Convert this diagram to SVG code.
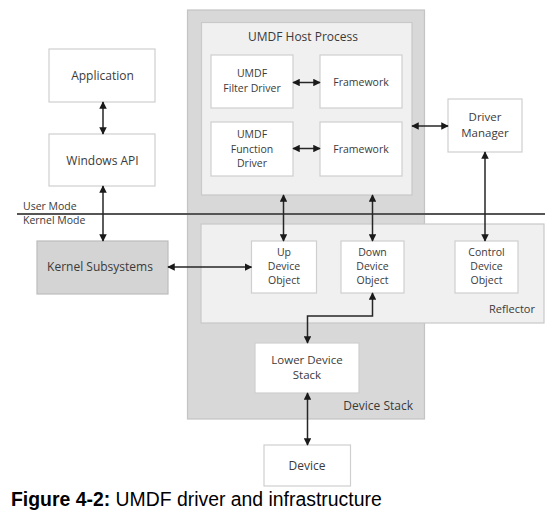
<svg xmlns="http://www.w3.org/2000/svg" width="559" height="519" viewBox="0 0 559 519">
<style>
  .t { font-family: "Open Sans", "Noto Sans", "DejaVu Sans", sans-serif; fill: #3a3a3a; text-anchor: middle; }
  .big { font-size: 12px; }
  .sm { font-size: 10.5px; }
  .box { fill: #ffffff; stroke: #cfcfcf; stroke-width: 1.2; }
  .pane { fill: #f0f0f0; stroke: #c9c9c9; stroke-width: 1.2; }
  .outer { fill: #d8d8d8; stroke: #c4c4c4; stroke-width: 1.2; }
  .kern { fill: #d4d4d4; stroke: #bcbcbc; stroke-width: 1.2; }
  .c { fill: none; stroke: #262626; stroke-width: 1.5; marker-start: url(#ah); marker-end: url(#ah); }
</style>
<defs>
  <marker id="ah" viewBox="0 0 10 10" refX="9" refY="5" markerWidth="7.5" markerHeight="7.5" markerUnits="userSpaceOnUse" orient="auto-start-reverse">
    <path d="M0,0 L10,5 L0,10 z" fill="#1a1a1a"/>
  </marker>
</defs>
<rect width="559" height="519" fill="#ffffff"/>

<g id="device-stack">
  <rect class="outer" x="187.5" y="10" width="237" height="409"/>
  <text class="t" x="413" y="410" font-size="12" style="text-anchor:end">Device Stack</text>
</g>

<g id="umdf-host-process">
  <rect class="pane" x="201.5" y="22.5" width="210.5" height="172.5"/>
  <text class="t big" x="303" y="41">UMDF Host Process</text>
</g>

<g id="umdf-filter-driver">
  <rect class="box" x="211" y="55" width="82" height="53"/>
  <text class="t sm" x="252" y="77">UMDF</text>
  <text class="t sm" x="252" y="92">Filter Driver</text>
</g>
<g id="framework-1">
  <rect class="box" x="320" y="55" width="82" height="53"/>
  <text class="t sm" x="361" y="86">Framework</text>
</g>
<g id="umdf-function-driver">
  <rect class="box" x="211" y="122" width="82" height="54"/>
  <text class="t sm" x="252" y="138">UMDF</text>
  <text class="t sm" x="252" y="152.5">Function</text>
  <text class="t sm" x="252" y="167">Driver</text>
</g>
<g id="framework-2">
  <rect class="box" x="320" y="122" width="82" height="54"/>
  <text class="t sm" x="361" y="152.5">Framework</text>
</g>

<g id="application">
  <rect class="box" x="49" y="49" width="106" height="53"/>
  <text class="t big" x="102.5" y="80">Application</text>
</g>
<g id="windows-api">
  <rect class="box" x="49" y="134" width="106" height="52"/>
  <text class="t big" x="102.5" y="165">Windows API</text>
</g>

<g id="driver-manager">
  <rect class="box" x="448" y="99" width="74" height="53"/>
  <text class="t" x="485" y="121" font-size="11.5">Driver</text>
  <text class="t" x="485" y="136.8" font-size="11.5">Manager</text>
</g>

<g id="reflector">
  <rect class="pane" x="201" y="224" width="343" height="99"/>
  <text class="t" x="535" y="313" font-size="11" style="text-anchor:end">Reflector</text>
</g>

<g id="mode-boundary">
  <line x1="17" y1="214" x2="545" y2="214" stroke="#555555" stroke-width="2"/>
  <text class="t" x="23" y="210" font-size="10.5" style="text-anchor:start">User Mode</text>
  <text class="t" x="23" y="223.5" font-size="10.5" style="text-anchor:start">Kernel Mode</text>
</g>

<g id="kernel-subsystems">
  <rect class="kern" x="37" y="241" width="131" height="53"/>
  <text class="t big" x="100" y="271">Kernel Subsystems</text>
</g>

<g id="up-device-object">
  <rect class="box" x="251.5" y="241" width="65" height="52"/>
  <text class="t sm" x="284" y="256">Up</text>
  <text class="t sm" x="284" y="270">Device</text>
  <text class="t sm" x="284" y="284">Object</text>
</g>
<g id="down-device-object">
  <rect class="box" x="341" y="241" width="63" height="52"/>
  <text class="t sm" x="372.5" y="256">Down</text>
  <text class="t sm" x="372.5" y="270">Device</text>
  <text class="t sm" x="372.5" y="284">Object</text>
</g>
<g id="control-device-object">
  <rect class="box" x="455" y="241" width="63" height="52"/>
  <text class="t sm" x="486.5" y="256">Control</text>
  <text class="t sm" x="486.5" y="270">Device</text>
  <text class="t sm" x="486.5" y="284">Object</text>
</g>

<g id="lower-device-stack">
  <rect class="box" x="255" y="343" width="104" height="50"/>
  <text class="t" x="307" y="363.5" font-size="11.5">Lower Device</text>
  <text class="t" x="307" y="378.5" font-size="11.5">Stack</text>
</g>

<g id="device">
  <rect class="box" x="264" y="445" width="86.5" height="41"/>
  <text class="t big" x="307" y="469.5">Device</text>
</g>

<g id="connectors">
  <line class="c" x1="103" y1="102" x2="103" y2="134"/>
  <line class="c" x1="103" y1="186" x2="103" y2="241"/>
  <line class="c" x1="293" y1="82.5" x2="320" y2="82.5"/>
  <line class="c" x1="293" y1="148.5" x2="320" y2="148.5"/>
  <line class="c" x1="412" y1="126" x2="448" y2="126"/>
  <line class="c" x1="283.5" y1="195" x2="283.5" y2="241"/>
  <line class="c" x1="372.5" y1="195" x2="372.5" y2="241"/>
  <line class="c" x1="485" y1="152" x2="485" y2="241"/>
  <line class="c" x1="168" y1="267" x2="251.5" y2="267"/>
  <path class="c" d="M372.5,293 V316 H307.5 V343"/>
  <line class="c" x1="307.5" y1="393" x2="307.5" y2="445"/>
</g>

<g id="caption">
  <text x="11" y="506" font-family="'Liberation Sans', Arial, sans-serif" font-size="19.4" fill="#000000"><tspan font-weight="bold">Figure 4-2:</tspan> UMDF driver and infrastructure</text>
</g>
</svg>
